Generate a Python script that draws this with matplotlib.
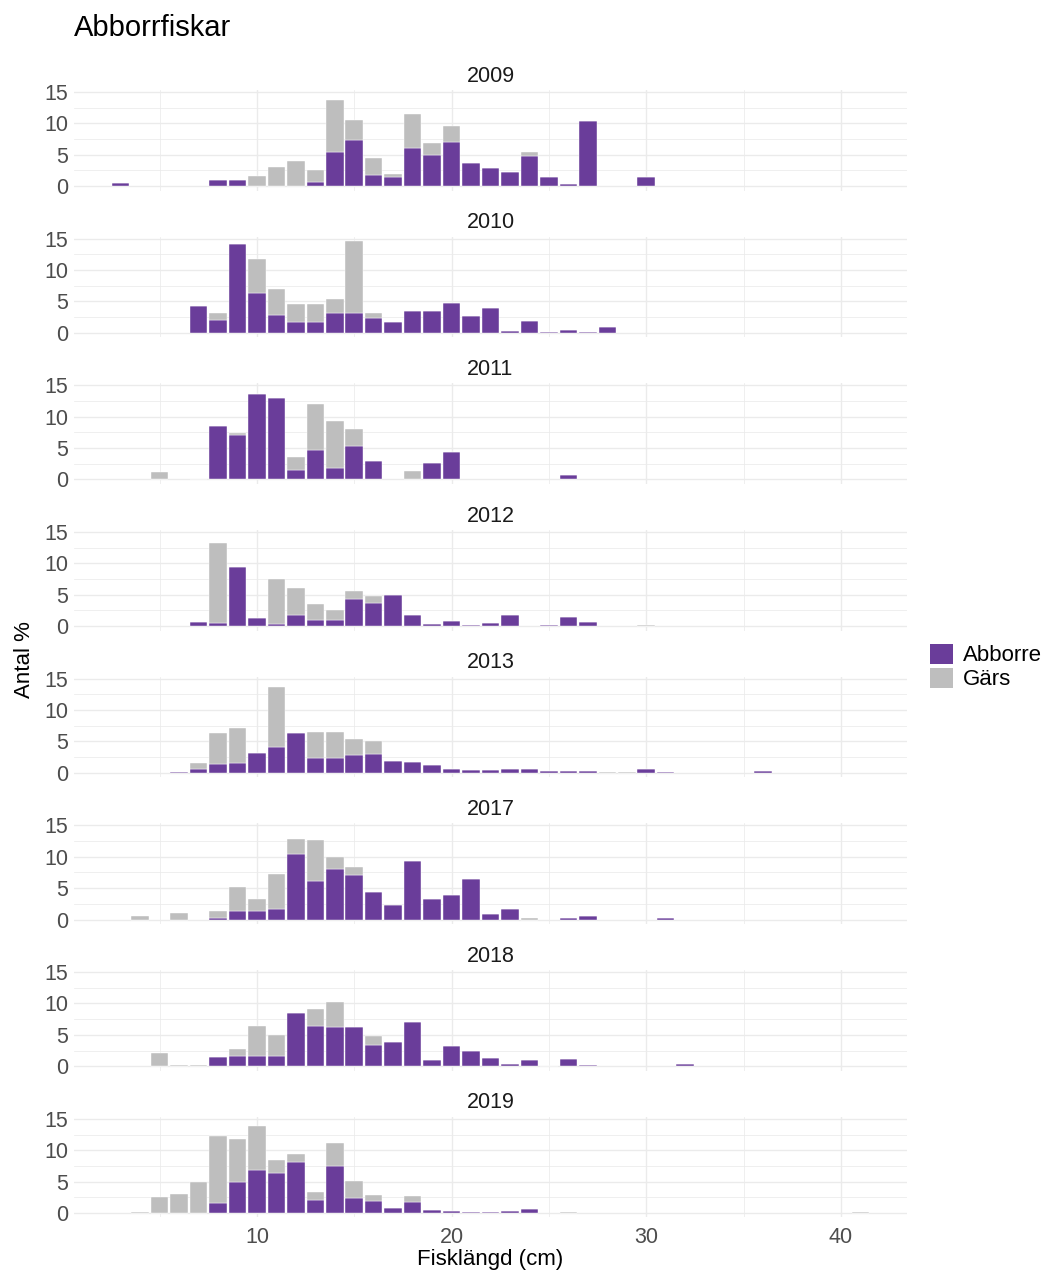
import matplotlib
matplotlib.use("Agg")
import matplotlib.pyplot as plt
import numpy as np
from matplotlib.patches import Patch

plt.rcParams["font.family"] = ["Liberation Sans", "DejaVu Sans"]

# --- data: percent of catch per 1 cm length class, per year ---
years = ["2009", "2010", "2011", "2012", "2013", "2017", "2018", "2019"]
species = ["Abborre", "Gärs"]

langd_2009 = [3, 8, 9, 10, 11, 12, 13, 14, 15, 16, 17, 18, 19, 20, 21, 22, 23, 24, 25, 26, 27, 30]
abborre_2009 = [0.4, 0.9, 0.9, 0, 0, 0, 0.6, 5.5, 7.3, 1.8, 1.5, 6.0, 5.0, 7.0, 3.6, 2.9, 2.2, 4.8, 1.5, 0.3, 10.4, 1.4]
gars_2009 = [0, 0, 0, 1.6, 3.0, 4.0, 2.0, 8.2, 3.2, 2.7, 0.4, 5.5, 1.9, 2.5, 0, 0, 0, 0.7, 0, 0, 0, 0]

langd_2010 = [7, 8, 9, 10, 11, 12, 13, 14, 15, 16, 17, 18, 19, 20, 21, 22, 23, 24, 25, 26, 27, 28]
abborre_2010 = [4.25, 2.0, 14.2, 6.3, 2.8, 1.75, 1.75, 3.2, 3.2, 2.4, 1.75, 3.4, 3.4, 4.8, 2.7, 4.0, 0.25, 1.9, 0.1, 0.4, 0.1, 0.85]
gars_2010 = [0, 1.2, 0, 5.4, 4.1, 2.85, 2.85, 2.2, 11.4, 0.8, 0, 0, 0, 0, 0, 0, 0, 0, 0, 0, 0, 0]

langd_2011 = [5, 7, 8, 9, 10, 11, 12, 13, 14, 15, 16, 18, 19, 20, 26]
abborre_2011 = [0, 0.1, 8.5, 7.1, 13.7, 13.0, 1.45, 4.7, 1.75, 5.3, 3.0, 0, 2.65, 4.4, 0.7]
gars_2011 = [1.2, 0, 0, 0.3, 0, 0, 2.15, 7.3, 7.5, 2.8, 0, 1.4, 0, 0, 0]

langd_2012 = [7, 8, 9, 10, 11, 12, 13, 14, 15, 16, 17, 18, 19, 20, 21, 22, 23, 25, 26, 27, 30]
abborre_2012 = [0.7, 0.5, 9.4, 1.3, 0.4, 1.8, 1.0, 0.9, 4.4, 3.7, 4.9, 1.7, 0.3, 0.8, 0.25, 0.5, 1.75, 0.1, 1.45, 0.6, 0]
gars_2012 = [0, 12.8, 0, 0, 7.15, 4.2, 2.5, 1.6, 1.2, 1.15, 0, 0, 0, 0, 0, 0, 0, 0, 0, 0, 0.1]

langd_2013 = [6, 7, 8, 9, 10, 11, 12, 13, 14, 15, 16, 17, 18, 19, 20, 21, 22, 23, 24, 25, 26, 27, 28, 29, 30, 31, 36]
abborre_2013 = [0.2, 0.6, 1.45, 1.55, 3.2, 4.15, 6.4, 2.35, 2.35, 2.9, 3.0, 1.9, 1.8, 1.3, 0.6, 0.4, 0.4, 0.65, 0.65, 0.3, 0.3, 0.35, 0, 0, 0.65, 0.1, 0.3]
gars_2013 = [0, 0.9, 4.85, 5.65, 0, 9.55, 0, 4.15, 4.2, 2.5, 2.0, 0, 0, 0, 0, 0, 0, 0, 0, 0, 0, 0, 0.05, 0.15, 0, 0, 0]

langd_2017 = [4, 6, 8, 9, 10, 11, 12, 13, 14, 15, 16, 17, 18, 19, 20, 21, 22, 23, 24, 26, 27, 31]
abborre_2017 = [0, 0, 0.3, 1.35, 1.35, 1.7, 10.4, 6.1, 8.0, 7.1, 4.35, 2.25, 9.35, 3.25, 3.9, 6.4, 0.85, 1.75, 0, 0.25, 0.6, 0.3]
gars_2017 = [0.6, 1.05, 1.1, 3.8, 1.9, 5.55, 2.4, 6.6, 1.9, 1.3, 0, 0, 0, 0, 0, 0, 0, 0, 0.2, 0, 0, 0]

langd_2018 = [5, 6, 7, 8, 9, 10, 11, 12, 13, 14, 15, 16, 17, 18, 19, 20, 21, 22, 23, 24, 25, 26, 27, 32]
abborre_2018 = [0, 0, 0, 1.5, 1.7, 1.7, 1.7, 8.5, 6.4, 6.3, 6.3, 3.45, 3.9, 7.1, 1.05, 3.2, 2.4, 1.35, 0.4, 0.95, 0, 1.2, 0.25, 0.3]
gars_2018 = [2.1, 0.25, 0.25, 0, 1.1, 4.7, 3.35, 0, 2.75, 4.0, 0, 1.3, 0, 0, 0, 0, 0, 0, 0, 0, 0.1, 0, 0, 0]

langd_2019 = [4, 5, 6, 7, 8, 9, 10, 11, 12, 13, 14, 15, 16, 17, 18, 19, 20, 21, 22, 23, 24, 26, 41]
abborre_2019 = [0, 0, 0, 0, 1.6, 4.9, 6.85, 6.4, 8.1, 2.1, 7.5, 2.35, 1.9, 0.75, 1.8, 0.5, 0.3, 0.2, 0.2, 0.25, 0.7, 0, 0]
gars_2019 = [0.2, 2.6, 3.0, 4.85, 10.7, 6.85, 7.05, 2.1, 1.3, 1.25, 3.6, 2.75, 1.0, 0, 0.9, 0, 0, 0, 0, 0, 0, 0.1, 0.1]

panels = [
    (langd_2009, abborre_2009, gars_2009),
    (langd_2010, abborre_2010, gars_2010),
    (langd_2011, abborre_2011, gars_2011),
    (langd_2012, abborre_2012, gars_2012),
    (langd_2013, abborre_2013, gars_2013),
    (langd_2017, abborre_2017, gars_2017),
    (langd_2018, abborre_2018, gars_2018),
    (langd_2019, abborre_2019, gars_2019),
]

PURPLE = "#6a3d9a"
GREY = "#bebebe"
GRID = "#ebebeb"
TICK_COL = "#4d4d4d"

W, H = 1052, 1272
fig = plt.figure(figsize=(W / 100, H / 100), dpi=100)

# shared scales (ggplot-like 5% expansion)
all_x = np.concatenate([np.asarray(p[0], float) for p in panels])
x_lo, x_hi = all_x.min() - 0.45, all_x.max() + 0.45
x_pad = 0.05 * (x_hi - x_lo)
ymax = max(float(np.max(np.add(p[1], p[2]))) for p in panels)
y_pad = 0.05 * ymax

px_left, px_right = 74, 907
px_per_y = 6.27
zero0, step = 186, 146.7

for i, (year, (langd, abb, gars)) in enumerate(zip(years, panels)):
    zero_px = zero0 + i * step
    top_px = zero_px - (ymax + y_pad) * px_per_y
    bot_px = zero_px + y_pad * px_per_y
    ax = fig.add_axes([px_left / W, 1 - bot_px / H,
                       (px_right - px_left) / W, (bot_px - top_px) / H])
    ax.bar(langd, abb, width=0.9, color=PURPLE, edgecolor="white", linewidth=0.3, zorder=3)
    ax.bar(langd, gars, width=0.9, bottom=abb, color=GREY, edgecolor="white", linewidth=0.3, zorder=3)
    ax.set_xlim(x_lo - x_pad, x_hi + x_pad)
    ax.set_ylim(-y_pad, ymax + y_pad)
    ax.set_xticks([10, 20, 30, 40])
    ax.set_xticks([5, 15, 25, 35], minor=True)
    ax.set_yticks([0, 5, 10, 15])
    ax.set_yticks([2.5, 7.5, 12.5], minor=True)
    ax.grid(which="major", color=GRID, linewidth=1.0, zorder=0)
    ax.grid(which="minor", color=GRID, linewidth=0.55, zorder=0)
    ax.set_axisbelow(True)
    for s in ax.spines.values():
        s.set_visible(False)
    ax.tick_params(which="both", length=0, labelsize=15.5, colors=TICK_COL, pad=4)
    if i < len(years) - 1:
        ax.tick_params(axis="x", labelbottom=False)
    else:
        ax.tick_params(axis="x", pad=7)
    ax.set_title(year, fontsize=15.5, color="#1a1a1a", pad=6)

fig.text(px_left / W, 1 - 36 / H, "Abborrfiskar", fontsize=21, ha="left", va="baseline")
fig.text(24 / W, 1 - 660 / H, "Antal %", fontsize=16, rotation=90, ha="center", va="center")
fig.text((px_left + px_right) / 2 / W, 1 - 1260 / H, "Fisklängd (cm)", fontsize=16,
         ha="center", va="center")

handles = [Patch(facecolor=PURPLE), Patch(facecolor=GREY)]
fig.legend(handles, species, loc="center left", bbox_to_anchor=(930 / W, 1 - 667 / H),
           frameon=False, fontsize=16, handlelength=1.05, handleheight=1.05,
           labelspacing=0.05, handletextpad=0.45, borderpad=0, borderaxespad=0)

fig.savefig("out.png", dpi=100)
